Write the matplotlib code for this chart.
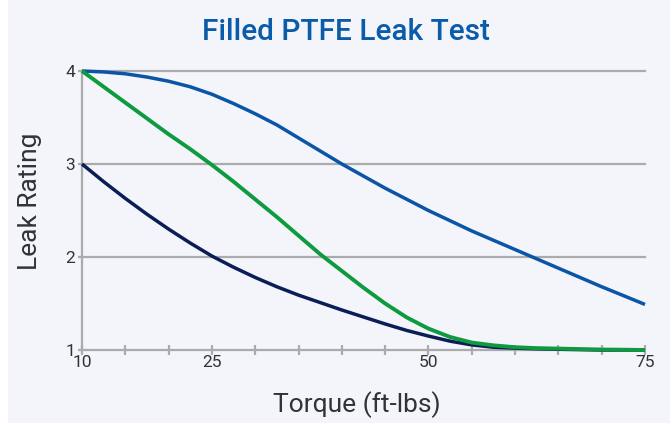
import matplotlib
matplotlib.use("Agg")
import matplotlib.pyplot as plt
from matplotlib.patches import Rectangle

torque = [10, 12.5, 15, 17.5, 20, 22.5, 25, 27.5, 30, 32.5, 35, 37.5, 40, 42.5, 45,
          47.5, 50, 52.5, 55, 57.5, 60, 62.5, 65, 67.5, 70, 72.5, 75]
series_blue = [4.00, 3.99, 3.97, 3.935, 3.89, 3.83, 3.75, 3.65, 3.54, 3.42, 3.28, 3.14, 3.00, 2.87, 2.74,
               2.62, 2.50, 2.39, 2.28, 2.18, 2.08, 1.98, 1.88, 1.78, 1.68, 1.585, 1.49]
series_green = [4.00, 3.83, 3.66, 3.49, 3.32, 3.16, 2.99, 2.81, 2.62, 2.43, 2.23, 2.03, 1.85, 1.67, 1.50,
                1.35, 1.23, 1.14, 1.08, 1.05, 1.03, 1.02, 1.015, 1.01, 1.005, 1.003, 1.00]
series_navy = [3.00, 2.81, 2.63, 2.46, 2.30, 2.15, 2.01, 1.89, 1.78, 1.68, 1.59, 1.51, 1.43, 1.355, 1.28,
               1.21, 1.15, 1.095, 1.055, 1.03, 1.02, 1.013, 1.008, 1.004, 1.00, 1.00, 1.00]
x_tick_labels = {10: "10", 25: "25", 50: "50", 75: "75"}
y_ticks = [1, 2, 3, 4]

plt.rcParams['font.family'] = ['Roboto', 'DejaVu Sans']

bg = "#F3F5FA"
fig = plt.figure(figsize=(6.7, 4.23), dpi=100, facecolor="white")
fig.patches.append(Rectangle((8 / 670, 0), 1 - 8 / 670, 1, transform=fig.transFigure,
                             facecolor=bg, edgecolor="none", zorder=-10))

ax = fig.add_axes([82 / 670, 73 / 423, (645 - 82) / 670, (350 - 71) / 423])
ax.set_zorder(5)
ax.set_facecolor("none")

kw = dict(solid_capstyle="butt", solid_joinstyle="round", clip_on=False)
ax.plot(torque, series_navy, color="#0B1D56", lw=2.5, zorder=3, **kw)
ax.plot(torque, series_blue, color="#0A55A6", lw=2.5, zorder=3, **kw)
ax.plot(torque, series_green, color="#0E9A3E", lw=2.8, zorder=4, **kw)

ax.set_xlim(10, 75)
ax.set_ylim(1, 4)

grid_c = "#ABABAB"
for y in y_ticks[1:]:
    ax.axhline(y, color=grid_c, lw=1.6, zorder=1, clip_on=False)

for s in ["top", "right"]:
    ax.spines[s].set_visible(False)
for s in ["left", "bottom"]:
    ax.spines[s].set_color(grid_c)
    ax.spines[s].set_linewidth(1.6)
    ax.spines[s].set_zorder(2)

ax.set_xticks(list(range(10, 76, 5)))
ax.set_xticklabels([x_tick_labels.get(t, "") for t in range(10, 76, 5)])
ax.set_yticks(y_ticks)
ax.set_yticklabels([str(v) for v in y_ticks])
ax.tick_params(axis="x", direction="inout", length=7, width=1.6, color=grid_c,
               labelsize=12.5, labelcolor="#333333", pad=0)
ax.tick_params(axis="y", direction="out", length=3, width=1.6, color=grid_c,
               labelsize=12.5, labelcolor="#333333", pad=2)

fig.text(346 / 670, 1 - 32 / 423, "Filled PTFE Leak Test", ha="center", va="center",
         fontsize=21.5, color="#0A5BAA", fontweight="medium")
fig.text(30 / 670, 1 - 201 / 423, "Leak Rating", ha="center", va="center", rotation=90,
         fontsize=19, color="#333333")
fig.text(357 / 670, 1 - 405 / 423, "Torque (ft-lbs)", ha="center", va="center",
         fontsize=19, color="#333333")

fig.savefig("out.png", dpi=100, facecolor=fig.get_facecolor())
